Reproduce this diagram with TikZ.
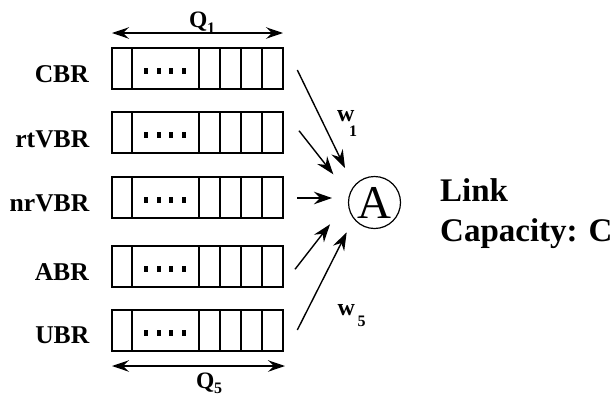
\documentclass[tikz,border=0pt]{standalone}
\usepackage{fontspec}
\setmainfont{Liberation Serif}
\usetikzlibrary{arrows.meta,calc}
\begin{document}
\begin{tikzpicture}[x=1pt,y=-1pt,
  qbox/.style={draw,line width=1.5pt,minimum width=171pt,minimum height=41pt,inner sep=0pt,outer sep=0pt,anchor=north west},
  lab/.style={font=\bfseries\fontsize{25.6}{28}\selectfont,anchor=base east,inner sep=0pt},
  big/.style={font=\bfseries\fontsize{33}{36}\selectfont,anchor=base west,inner sep=0pt},
  qlab/.style={font=\bfseries\fontsize{23.5}{25}\selectfont,anchor=base west,inner sep=0pt},
  sub/.style={font=\bfseries\fontsize{16}{18}\selectfont,anchor=base west,inner sep=0pt},
  wlab/.style={font=\bfseries\fontsize{24}{26}\selectfont,anchor=base west,inner sep=0pt},
  arr/.style={line width=1.4pt,-{Stealth[length=18pt,width=12.5pt,inset=6pt]}},
  dbl/.style={line width=1.3pt,{Stealth[length=17pt,width=11.5pt,inset=6pt]}-{Stealth[length=17pt,width=11.5pt,inset=6pt]}},
]
\useasboundingbox (0,0) rectangle (615,400);

% queues
\foreach \n/\y in {cbr/48, rtvbr/112, nrvbr/177, abr/246, ubr/310}{
  \node[qbox] (\n) at (112,\y) {};
  \foreach \d in {20,87,108,129,150}
    \draw[line width=1.5pt] ($(\n.north west)+(\d,0)$) -- ($(\n.south west)+(\d,0)$);
  \foreach \d in {32,44.7,57.3,69.7}
    \fill ($(\n.north west)+(\d,19.7)$) rectangle ($(\n.north west)+(\d+4,25.7)$);
}

% labels
\node[lab] (lcbr) at (89,82) {CBR};
\node[lab] (lrtvbr) at (89.5,147) {rtVBR};
\node[lab] (lnrvbr) at (89.5,211) {nrVBR};
\node[lab] (labr) at (89,280) {ABR};
\node[lab] (lubr) at (89.5,343) {UBR};

% Q1 / Q5 arrows
\coordinate (q1l) at (112,33);
\coordinate (q1r) at (283,33);
\draw[dbl] (q1l) -- (q1r);
\node[qlab] (q1) at (189,27.5) {Q};
\node[sub] (q1s) at (207,33) {1};

\coordinate (q5l) at (112,366);
\coordinate (q5r) at (285,366);
\draw[dbl] (q5l) -- (q5r);
\node[qlab] (q5) at (196,388.5) {Q};
\node[sub] (q5s) at (214,393) {5};

% server
\node[draw,circle,line width=1.2pt,minimum size=52pt,inner sep=0pt,font=\fontsize{47}{47}\selectfont] (A) at (374.5,202.5) {A};

% input arrows
\coordinate (s1) at (297.3,70);   \coordinate (t1) at (345,168);
\coordinate (s2) at (299,130.7);  \coordinate (t2) at (333.3,174.3);
\coordinate (s3) at (297,198);    \coordinate (t3) at (332,198);
\coordinate (s4) at (295,269.3);  \coordinate (t4) at (330,224.3);
\coordinate (s5) at (297.3,330);  \coordinate (t5) at (346.7,232.3);
\foreach \i in {1,...,5} \draw[arr] (s\i) -- (t\i);

% weights
\node[wlab] (w1) at (337,121.7) {w};
\node[sub] (w1s) at (349,136.5) {1};
\node[wlab] (w5) at (337.5,315) {w};
\node[sub] (w5s) at (357.5,326) {5};

% link
\node[big] (link) at (440,201.7) {Link};
\node[big] (cap) at (440,241.7) {Capacity: C};
\end{tikzpicture}
\end{document}
